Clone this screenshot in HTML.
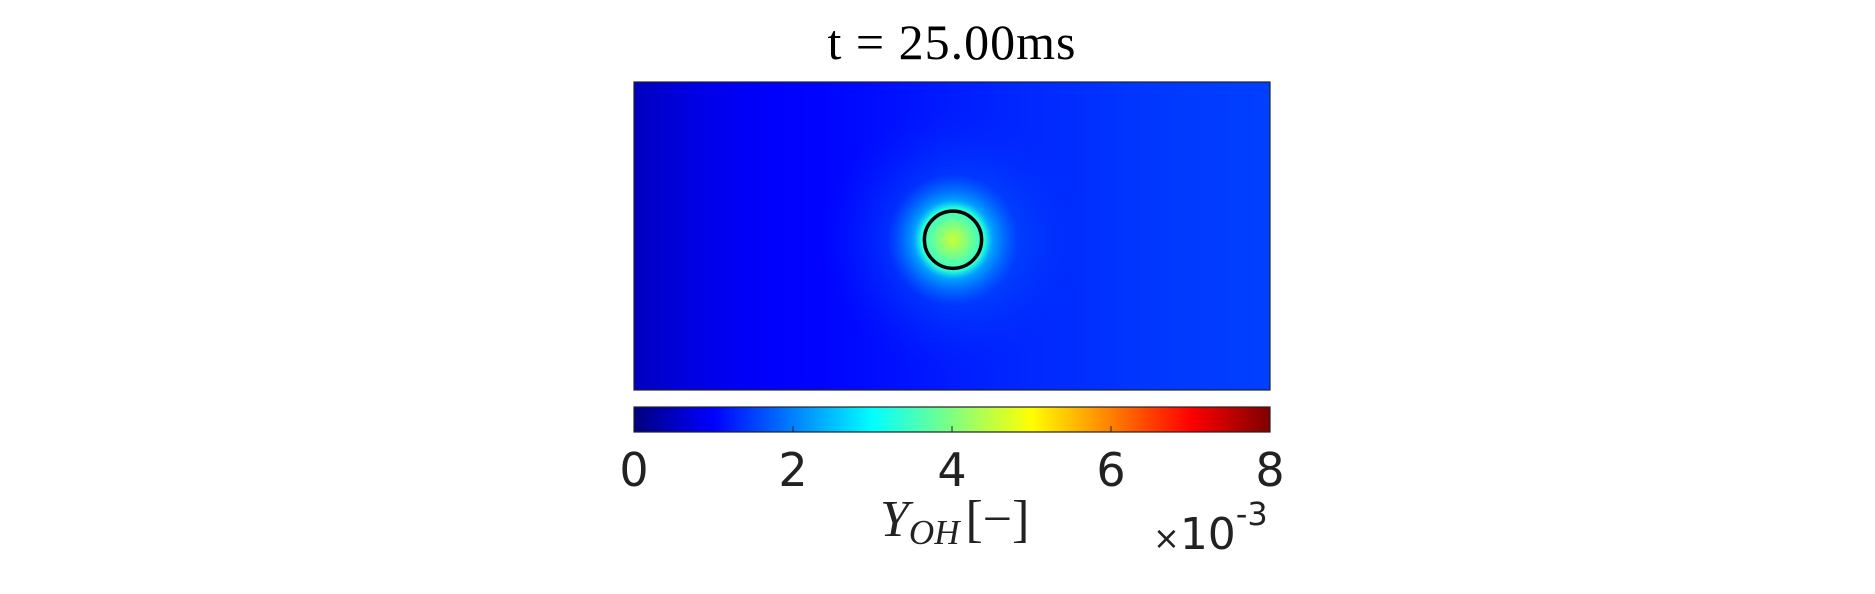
<!DOCTYPE html>
<html><head><meta charset="utf-8"><style>
html,body{margin:0;padding:0;background:#fff;width:1875px;height:594px;overflow:hidden}
svg{display:block}
</style></head><body>
<svg id="chart" width="1875" height="594" viewBox="0 0 1875 594">
<defs>
<linearGradient id="fieldGrad" x1="0" x2="1" y1="0" y2="0"></linearGradient>
<radialGradient id="glow" cx="0.5" cy="0.5" r="0.5"></radialGradient>
<linearGradient id="jetGrad" x1="0" x2="1" y1="0" y2="0"></linearGradient>
<clipPath id="plotClip"><rect x="634" y="82" width="636" height="308"/></clipPath>
</defs>
<text x="952" y="59" text-anchor="middle" font-family="'Liberation Serif',serif" font-size="50" letter-spacing="1" fill="#000">t = 25.00ms</text>
<g id="plot"></g>
<g id="cbar"></g>
<text x="880" y="536" font-family="'Liberation Serif',serif" font-size="52" font-style="italic" fill="#222">Y<tspan font-size="35" dy="8">OH</tspan><tspan font-style="normal" font-size="52" dy="-8" dx="6" fill="#222">[−]</tspan></text>
<text x="1153" y="549" font-family="'DejaVu Sans',sans-serif" font-size="44" fill="#222"><tspan font-size="32">×</tspan>10<tspan font-size="32" dy="-24">-3</tspan></text>
</svg>
<script>
const NS='http://www.w3.org/2000/svg';
const cbTicks=[0,2,4,6,8];
const cbMin=0, cbMax=8;
// field values (x10^-3) sampled along x fraction of domain
const fieldX=[0,0.1,0.2,0.3,0.4,0.5,0.6,0.7,0.8,0.9,1];
const fieldVal=[0.5,0.8,0.97,1.03,1.12,1.22,1.3,1.36,1.42,1.46,1.5];
const spotCenter=[0.5,0.512];
const spotPeak=[4.6];
const spotRadius=[0.045];
const X0=634,X1=1270,Y0=82,Y1=390;
function jet(v){const t=(v-cbMin)/(cbMax-cbMin);
 const c=x=>Math.max(0,Math.min(1,x));
 const r=c(1.5-Math.abs(4*t-3)),g=c(1.5-Math.abs(4*t-2)),b=c(1.5-Math.abs(4*t-1));
 return `rgb(${Math.round(r*255)},${Math.round(g*255)},${Math.round(b*255)})`;}
function mk(tag,attrs,parent){const e=document.createElementNS(NS,tag);for(const k in attrs)e.setAttribute(k,attrs[k]);parent.appendChild(e);return e;}
const fg=document.getElementById('fieldGrad');
fieldX.forEach((x,i)=>mk('stop',{offset:x,'stop-color':jet(fieldVal[i])},fg));
const glow=document.getElementById('glow');
[[0,spotPeak[0],1],[0.24,3.3,1],[0.3,2.6,0.75],[0.5,1.9,0.3],[1,1.4,0]].forEach(s=>mk('stop',{offset:s[0],'stop-color':jet(s[1]),'stop-opacity':s[2]},glow));
const jg=document.getElementById('jetGrad');
for(let i=0;i<=40;i++){mk('stop',{offset:i/40,'stop-color':jet(cbMin+(cbMax-cbMin)*i/40)},jg);}
const plot=document.getElementById('plot');
const sx=f=>X0+f*(X1-X0), sy=f=>Y0+f*(Y1-Y0);
const fieldRect=mk('rect',{x:X0,y:Y0,width:X1-X0,height:Y1-Y0,fill:'url(#fieldGrad)'},plot);


const cx=sx(spotCenter[0])+1, cy=sy(spotCenter[1]);
const rr=spotRadius[0]*(X1-X0);
const g=mk('ellipse',{cx:cx,cy:cy,rx:rr*4.6,ry:rr*4.6,fill:'url(#glow)','clip-path':'url(#plotClip)'},plot);


const ring=mk('circle',{cx:cx,cy:cy,r:rr,fill:'none',stroke:'#000','stroke-width':3.5},plot);


const frame=mk('rect',{x:X0,y:Y0,width:X1-X0,height:Y1-Y0,fill:'none',stroke:'#222','stroke-width':1.2},plot);


const cb=document.getElementById('cbar');
const CY0=407,CY1=432;
const cbx=v=>X0+(v-cbMin)/(cbMax-cbMin)*(X1-X0);
const bar=mk('rect',{x:X0,y:CY0,width:X1-X0,height:CY1-CY0,fill:'url(#jetGrad)',stroke:'#222','stroke-width':1.2},cb);


cbTicks.forEach(v=>{
 const x=cbx(v);
 if(v>cbMin&&v<cbMax){const t=mk('line',{x1:x,x2:x,y1:CY1,y2:CY1-6,stroke:'#222','stroke-width':1},cb);
 
 }
 const l=mk('text',{x:x,y:486,'text-anchor':'middle','font-family':"'DejaVu Sans',sans-serif",'font-size':46,fill:'#222'},cb);
 l.textContent=v;
 
 
});
</script>
</body></html>
